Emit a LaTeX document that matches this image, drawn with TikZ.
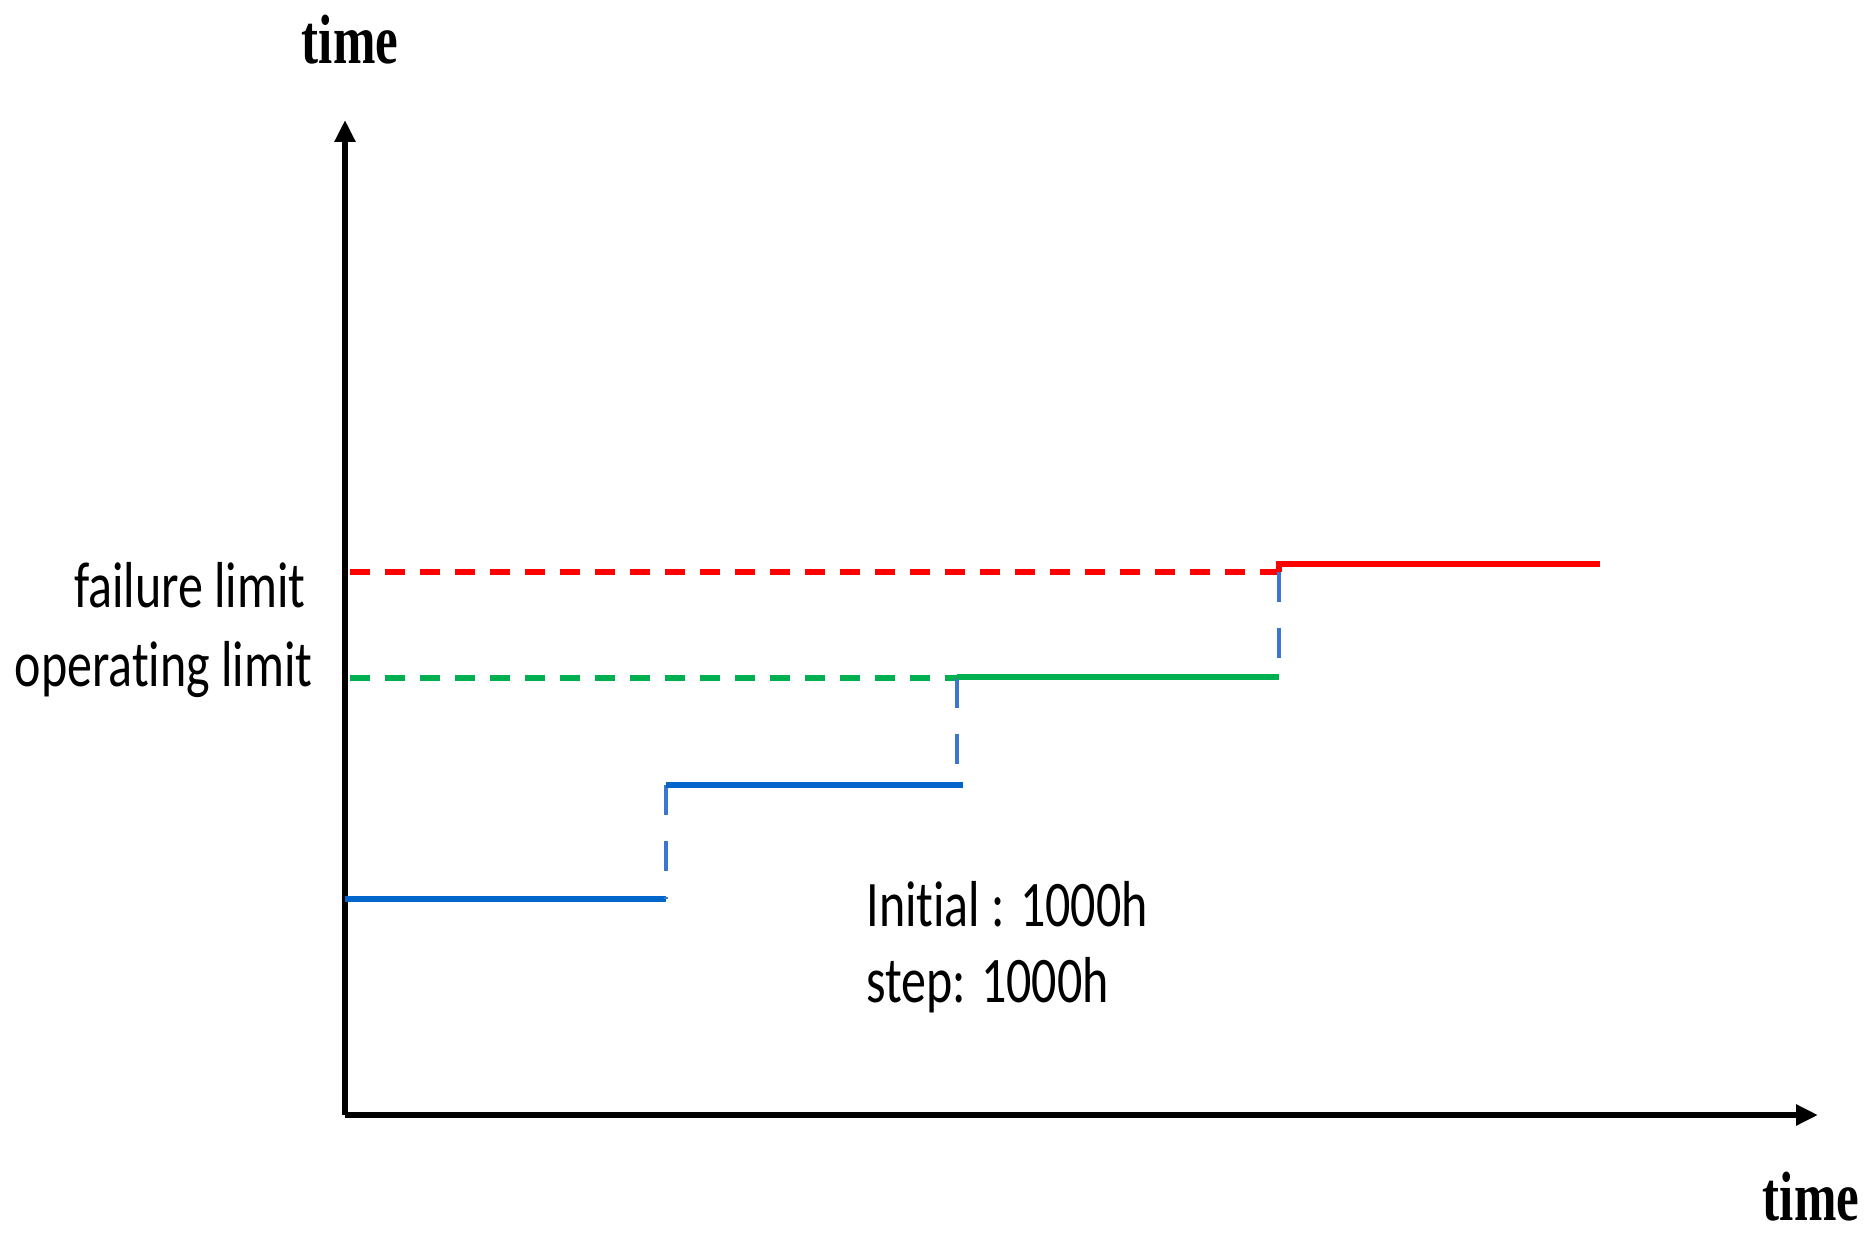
\documentclass[tikz,border=0pt]{standalone}
\usepackage{fontspec}
\usetikzlibrary{arrows.meta}
\newfontfamily\labfont[Ligatures={NoCommon,NoDiscretionary}]{Carlito}
\newfontfamily\timefont{Liberation Serif}
\definecolor{limred}{RGB}{255,0,0}
\definecolor{limgreen}{RGB}{0,176,80}
\definecolor{stepblue}{RGB}{0,102,204}
\definecolor{jumpblue}{RGB}{58,118,210}
\tikzset{
  axis/.style={line width=3pt, -{Triangle[length=11pt,width=10pt]}},
  lvl/.style={line width=3.2pt},
  dashlvl/.style={line width=3.2pt, dash pattern=on 10pt off 7.5pt},
  jump/.style={line width=2.2pt, color=jumpblue, dash pattern=on 15pt off 13pt},
  lab/.style={inner sep=0pt, font=\labfont\fontsize{25}{30}\selectfont},
  tlab/.style={inner sep=0pt, font=\timefont\bfseries\fontsize{25.5}{30}\selectfont},
}
\begin{document}
\begin{tikzpicture}[x=0.5pt,y=-0.5pt]
\useasboundingbox (0,0) rectangle (1874,1245);
% axes
\coordinate (O) at (345,1115);
\coordinate (ytip) at (345,120);
\coordinate (xtip) at (1818,1115);
\draw[axis] (O) -- (ytip);
\draw[axis] (O) -- (xtip);
% key points
\coordinate (b1s) at (345,899);
\coordinate (b1e) at (666,899);
\coordinate (b2s) at (666,785);
\coordinate (b2e) at (963,785);
\coordinate (v2b) at (957,785);
\coordinate (gds) at (350,678);
\coordinate (gde) at (957,678);
\coordinate (gs) at (957,677);
\coordinate (ge) at (1279,677);
\coordinate (rds) at (350,572);
\coordinate (rde) at (1279,572);
\coordinate (rc) at (1279,564);
\coordinate (re) at (1600,564);
% limit lines
\draw[dashlvl, limred] (rds) -- (rde);
\draw[dashlvl, limgreen] (gds) -- (gde);
% step curve
\draw[lvl, stepblue] (b1s) -- (b1e);
\draw[jump] (b2s) -- (b1e);
\draw[lvl, stepblue] (b2s) -- (b2e);
\draw[jump] (gde) -- (v2b);
\draw[lvl, limgreen] (gs) -- (ge);
\draw[jump] (rde) -- (ge);
\draw[lvl, limred, line join=miter] (rde) -- (rc) -- (re);
% labels
\node[tlab, anchor=base] (ty) at (350,64) {\scalebox{1}[1.37]{time}};
\node[tlab, anchor=base] (tx) at (1811,1220) {\scalebox{1}[1.37]{time}};
\node[lab, anchor=base east] (fl) at (306,608) {\scalebox{1}[1.3]{failure limit}};
\node[lab, anchor=base east] (ol) at (313,686) {\scalebox{1}[1.3]{operat\kern0pt ing limit}};
\node[lab, anchor=base west] (ini) at (866,926) {\scalebox{1}[1.3]{Init\kern0pt ial : 1000h}};
\node[lab, anchor=base west] (stp) at (866,1002) {\scalebox{1}[1.3]{step: 1000h}};
\end{tikzpicture}
\end{document}
